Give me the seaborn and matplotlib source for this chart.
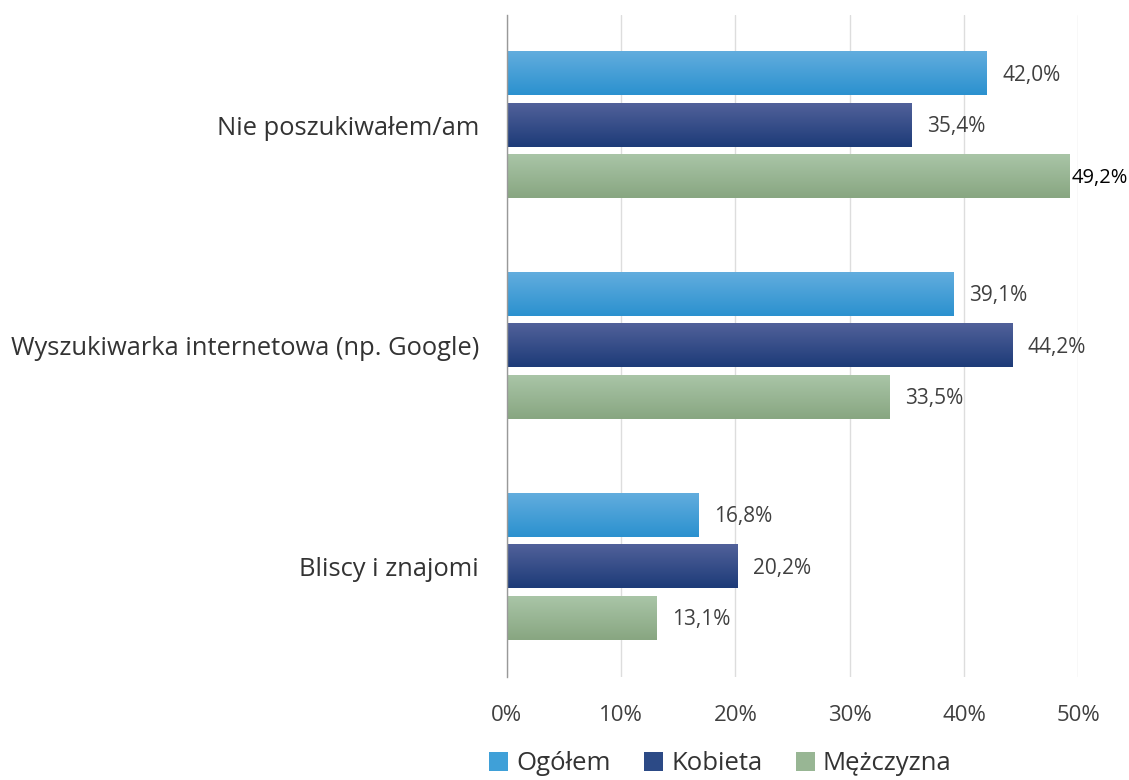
import numpy as np
import pandas as pd
import matplotlib
matplotlib.use("Agg")
import matplotlib.pyplot as plt
import seaborn as sns
from matplotlib.colors import LinearSegmentedColormap
from matplotlib.patches import Patch

categories = ["Nie poszukiwałem/am", "Wyszukiwarka internetowa (np. Google)", "Bliscy i znajomi"]
series = ["Ogółem", "Kobieta", "Mężczyzna"]
ogolem = [42.0, 39.1, 16.8]
kobieta = [35.4, 44.2, 20.2]
mezczyzna = [49.2, 33.5, 13.1]
xticks = [0, 10, 20, 30, 40, 50]

grad_top = {"Ogółem": "#62ADDE", "Kobieta": "#51619A", "Mężczyzna": "#A9C5A7"}
grad_bot = {"Ogółem": "#2B91CF", "Kobieta": "#1D3B78", "Mężczyzna": "#88A681"}
mid = {"Ogółem": "#3FA0D8", "Kobieta": "#2C4A86", "Mężczyzna": "#98B694"}

df = pd.DataFrame({
    "cat": categories * 3,
    "series": [s for s in series for _ in categories],
    "val": ogolem + kobieta + mezczyzna,
})

sns.set_theme(style="white")
plt.rcParams["font.family"] = ["Open Sans", "DejaVu Sans"]

fig = plt.figure(figsize=(11.29, 7.8), dpi=100)
ax = fig.add_axes([0.449, 0.132, 0.506, 0.849])

sns.barplot(data=df, y="cat", x="val", hue="series", order=categories,
            hue_order=series, palette=mid, orient="h", width=0.70,
            ax=ax, legend=False, saturation=1)

ax.set_xlim(0, 50)
ax.set_ylim(2.5, -0.5)
ax.set_xticks(xticks)
ax.set_xticklabels([f"{t}%" for t in xticks], fontsize=16, color="#404040")
ax.tick_params(axis="x", length=0, pad=20)
ax.tick_params(axis="y", length=0, pad=20)
for lab in ax.get_yticklabels():
    lab.set_fontsize(18.4)
    lab.set_color("#333333")
ax.set_xlabel("")
ax.set_ylabel("")
ax.grid(axis="x", color="#DDDDDD", linewidth=1)
ax.set_axisbelow(True)
for s in ["top", "right", "bottom"]:
    ax.spines[s].set_visible(False)
ax.spines["left"].set_color("#999999")
ax.spines["left"].set_linewidth(1)

bar_h = 0.195
for container, s, vals in zip(ax.containers, series, [ogolem, kobieta, mezczyzna]):
    cmap = LinearSegmentedColormap.from_list(s, [grad_top[s], grad_bot[s]])
    for patch, v in zip(container, vals):
        yc = patch.get_y() + patch.get_height() / 2
        patch.set_y(yc - bar_h / 2)
        patch.set_height(bar_h)
        x0, y0 = patch.get_x(), patch.get_y()
        w, h = patch.get_width(), patch.get_height()
        patch.set_facecolor("none")
        patch.set_edgecolor("none")
        grad = np.linspace(0, 1, 100).reshape(-1, 1)
        ax.imshow(grad, cmap=cmap, aspect="auto", origin="upper",
                  extent=(x0, x0 + w, y0 + h, y0), zorder=2)
        tight = x0 + w > 47
        col = "#000000" if tight else "#404040"
        ax.annotate(f"{v:.1f}%".replace(".", ","), xy=(x0 + w, yc),
                    xytext=(1.5 if tight else 11, -1), textcoords="offset points",
                    va="center", ha="left", fontsize=14.5 if tight else 15,
                    color=col, zorder=3, annotation_clip=False)
ax.set_xlim(0, 50)
ax.set_ylim(2.5, -0.5)

handles = [Patch(facecolor=mid[s], edgecolor="none") for s in series]
fig.legend(handles, series, loc="lower center", bbox_to_anchor=(0.638, -0.025),
           ncol=3, frameon=False, fontsize=18.5, handlelength=0.75, handleheight=0.75,
           handletextpad=0.3, columnspacing=1.3, labelcolor="#333333")

fig.savefig("out.png", dpi=100)
